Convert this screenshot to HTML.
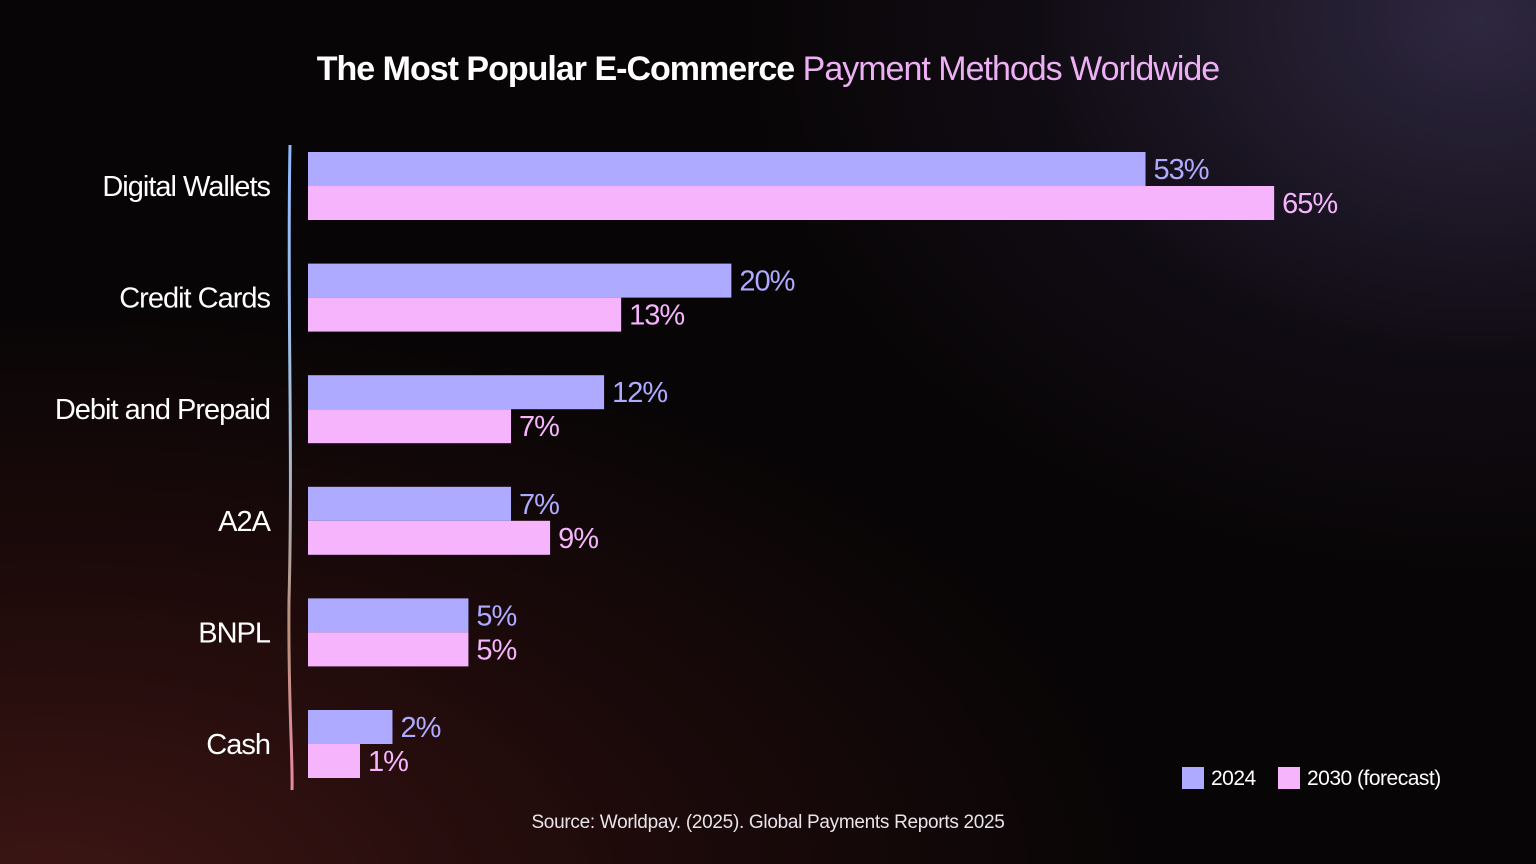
<!DOCTYPE html>
<html><head><meta charset="utf-8">
<style>
html,body{margin:0;padding:0;}
body{width:1536px;height:864px;overflow:hidden;position:relative;font-family:"Liberation Sans",sans-serif;
background:radial-gradient(ellipse 1000px 750px at 1480px 20px,#2e2740 0%,rgba(22,16,28,0.6) 45%,rgba(0,0,0,0) 75%),
radial-gradient(ellipse 1300px 700px at 50px 900px,#3d1614 0%,rgba(38,12,12,0.75) 45%,rgba(0,0,0,0) 85%),#080506;}
#title{position:absolute;top:50px;left:0;width:1536px;text-align:center;font-size:34px;font-weight:bold;color:#fff;letter-spacing:-1px;}
#title span{color:#eeb0f5;font-weight:normal;}
#source{position:absolute;top:812px;left:0;width:1536px;text-align:center;font-size:19px;color:#e8e4ea;letter-spacing:-0.3px;}
svg{position:absolute;left:0;top:0;}
</style></head><body>
<div id="title">The Most Popular E-Commerce <span>Payment Methods Worldwide</span></div>
<svg id="chart" width="1536" height="864">
<defs><linearGradient id="axg" x1="0" y1="0" x2="0" y2="1">
<stop offset="0" stop-color="#8fb8ff"/><stop offset="0.45" stop-color="#a6c0d8"/><stop offset="0.75" stop-color="#b8907a"/><stop offset="1" stop-color="#e88aa8"/></linearGradient></defs>
<path d="M290,145 C287,300 293,450 289,600 C288,700 293,760 292,790" stroke="url(#axg)" stroke-width="3" fill="none"/>
</svg>
<div id="source">Source: Worldpay. (2025). Global Payments Reports 2025</div>
<script>
const categories=["Digital Wallets","Credit Cards","Debit and Prepaid","A2A","BNPL","Cash"];
const values2024=[53,20,12,7,5,2];
const values2030=[65,13,7,9,5,1];
const seriesNames=["2024","2030 (forecast)"];
const svg=document.getElementById('chart');
const NS="http://www.w3.org/2000/svg";
const x0=308;
function xScale(v){return 52*Math.pow(Math.max(v,0),0.7);}
function yBand(i){return 152+i*111.6;}
const bh=34;
const colors=["#aeaaff","#f6b4fc"];
function mk(tag,attrs){const e=document.createElementNS(NS,tag);for(const k in attrs)e.setAttribute(k,attrs[k]);svg.appendChild(e);return e;}
categories.forEach((c,i)=>{
 const y=yBand(i);
 const t=mk('text',{x:270,y:y+bh+10,'text-anchor':'end','font-size':29,fill:'#fff','font-family':'Liberation Sans, sans-serif','letter-spacing':'-1'});
 t.textContent=c;
 
 
 [values2024[i],values2030[i]].forEach((v,s)=>{
  const w=xScale(v);const by=y+s*bh;
  const r=mk('rect',{x:x0,y:by,width:w,height:bh,fill:colors[s]});
  
  
  const lt=mk('text',{x:x0+w+8,y:by+bh/2+10,'font-size':29,fill:colors[s],'font-family':'Liberation Sans, sans-serif','letter-spacing':'-1'});
  lt.textContent=v+'%';
  
  
 });
});
const lx=[1182,1278];
seriesNames.forEach((n,s)=>{
 const r=mk('rect',{x:lx[s],y:767,width:22,height:22,fill:colors[s]});
 
 
 const t=mk('text',{x:lx[s]+29,y:785,'font-size':21,fill:'#fff','font-family':'Liberation Sans, sans-serif','letter-spacing':'-0.5'});
 t.textContent=n;
 
 
});
</script>
</body></html>
